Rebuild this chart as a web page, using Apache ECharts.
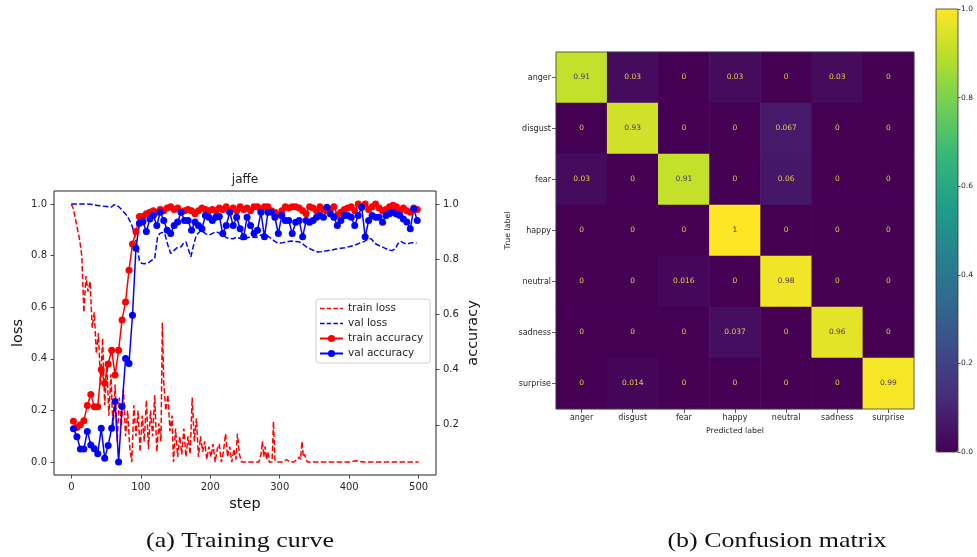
<!DOCTYPE html>
<html>
<head>
<meta charset="utf-8">
<script src="https://cdn.jsdelivr.net/npm/echarts@6/dist/echarts.min.js"></script>
<style>
html,body{margin:0;padding:0;background:#fff;}
#chart{width:977px;height:557px;}
</style>
</head>
<body>
<div id="chart"></div>
<script>
// ---------- Training curve data ----------
const trainLossSteps = [0,3,6,9,12,15,18,21,24,27,30,33,36,39,42,45,48,51,54,57,60,63,66,69,72,75,78,81,84,87,90,93,96,99,102,105,108,111,114,117,120,123,126,129,131,133,136,139,142,145,147,150,153,156,159,162,165,168,171,174,177,180,183,186,189,192,195,198,201,204,207,210,213,216,219,222,225,228,231,234,237,239,242,245,250,255,260,265,270,273,275,277,279,281,283,285,289,291,293,296,300,305,310,315,320,325,328,330,332,334,336,338,340,350,400,410,420,500];
const trainLoss = [1.00,0.98,0.94,0.90,0.86,0.80,0.58,0.72,0.66,0.70,0.52,0.58,0.42,0.50,0.30,0.48,0.22,0.38,0.18,0.34,0.12,0.30,0.08,0.25,0.14,0.28,0.10,0.20,0.06,0.00,0.22,0.10,0.20,0.04,0.18,0.08,0.24,0.05,0.20,0.10,0.26,0.04,0.15,0.08,0.54,0.31,0.20,0.26,0.12,0.18,0.00,0.13,0.02,0.10,0.03,0.13,0.02,0.10,0.03,0.25,0.08,0.17,0.02,0.10,0.04,0.08,0.01,0.06,0.02,0.07,0.00,0.05,0.07,0.00,0.04,0.11,0.02,0.06,0.00,0.05,0.01,0.11,0.03,0.00,0.00,0.00,0.00,0.00,0.00,0.03,0.08,0.02,0.06,0.01,0.04,0.00,0.00,0.157,0.01,0.00,0.00,0.00,0.01,0.00,0.00,0.01,0.02,0.01,0.08,0.02,0.03,0.01,0.00,0.00,0.00,0.005,0.00,0.00];

const valLossSteps = [0,10,20,30,40,50,57,62,68,75,80,85,88,92,95,98,101,105,110,115,120,124,127,131,135,139,143,148,152,158,162,165,169,172,176,180,187,193,198,204,209,214,219,224,228,233,238,244,249,254,260,266,272,278,283,288,293,298,304,310,316,322,328,333,338,344,350,355,360,366,374,381,388,394,401,408,415,422,428,432,437,442,447,452,457,462,466,470,474,479,484,490,497];
const valLoss = [1.0,1.0,1.0,0.998,0.993,0.99,0.987,0.997,0.99,0.97,0.955,0.93,0.91,0.87,0.83,0.78,0.77,0.768,0.77,0.78,0.79,0.87,0.885,0.89,0.88,0.84,0.808,0.82,0.83,0.834,0.85,0.853,0.82,0.795,0.84,0.879,0.898,0.885,0.879,0.887,0.892,0.885,0.878,0.868,0.866,0.865,0.872,0.865,0.859,0.87,0.872,0.87,0.878,0.885,0.875,0.866,0.855,0.847,0.85,0.853,0.856,0.855,0.853,0.845,0.834,0.826,0.818,0.814,0.815,0.818,0.821,0.825,0.828,0.83,0.835,0.84,0.848,0.855,0.866,0.864,0.847,0.84,0.834,0.828,0.821,0.82,0.825,0.845,0.855,0.848,0.845,0.85,0.849];

const accSteps = [3,8,13,18,23,28,33,38,43,48,53,58,63,68,73,78,83,88,93,98,103,108,113,118,123,128,133,138,143,148,153,158,163,168,173,178,183,188,193,198,203,208,213,218,223,228,233,238,243,248,253,258,263,268,273,278,283,288,293,298,303,308,313,318,323,328,333,338,343,348,353,358,363,368,373,378,383,388,393,398,403,408,413,418,423,428,433,438,443,448,453,458,463,468,473,478,483,488,493,498];
const trainAcc = [0.213,0.19,0.20,0.215,0.27,0.31,0.265,0.265,0.40,0.35,0.42,0.47,0.38,0.47,0.58,0.645,0.76,0.855,0.90,0.955,
0.955,0.965,0.97,0.975,0.97,0.98,0.975,0.985,0.99,0.98,
0.985,0.97,0.975,0.98,0.975,0.965,0.975,0.985,0.98,0.975,
0.98,0.975,0.985,0.98,0.99,0.975,0.985,0.975,0.99,0.98,
0.985,0.975,0.99,0.99,0.975,0.99,0.99,0.975,0.97,0.96,
0.975,0.99,0.985,0.99,0.99,0.985,0.975,0.965,0.99,0.985,
0.975,0.99,0.98,0.975,0.98,0.99,0.96,0.97,0.98,0.985,
0.99,0.975,1.0,0.99,1.0,0.98,0.99,1.0,0.985,0.975,
0.98,0.99,0.995,0.99,0.975,0.985,0.975,0.97,0.985,0.98];
const valAcc = [0.186,0.157,0.112,0.112,0.176,0.127,0.113,0.095,0.187,0.079,0.125,0.187,0.284,0.065,0.266,0.44,0.422,0.597,0.84,0.93,
0.936,0.90,0.946,0.958,0.922,0.97,0.94,0.905,0.893,0.922,
0.935,0.97,0.94,0.94,0.905,0.935,0.922,0.91,0.958,0.952,
0.94,0.952,0.955,0.893,0.922,0.97,0.922,0.952,0.91,0.881,
0.952,0.922,0.893,0.905,0.97,0.881,0.97,0.97,0.952,0.893,
0.958,0.94,0.94,0.893,0.934,0.94,0.881,0.94,0.934,0.94,
0.952,0.958,0.952,0.988,0.965,0.952,0.922,0.94,0.958,0.958,
0.952,0.922,0.958,0.988,0.881,0.94,0.958,0.952,0.952,0.934,
0.958,0.965,0.97,0.964,0.958,0.946,0.935,0.91,0.982,0.94];

const stepTicks = [0,100,200,300,400,500];
const lossTicks = [0,0.2,0.4,0.6,0.8,1.0];
const accTicks = [0.2,0.4,0.6,0.8,1.0];

// ---------- Confusion matrix data ----------
const classes = ['anger','disgust','fear','happy','neutral','sadness','surprise'];
const cmAnger    = [0.91,0.03,0,0.03,0,0.03,0];
const cmDisgust  = [0,0.93,0,0,0.067,0,0];
const cmFear     = [0.03,0,0.91,0,0.06,0,0];
const cmHappy    = [0,0,0,1,0,0,0];
const cmNeutral  = [0,0,0.016,0,0.98,0,0];
const cmSadness  = [0,0,0,0.037,0,0.96,0];
const cmSurprise = [0,0.014,0,0,0,0,0.99];
const cmRows = [cmAnger,cmDisgust,cmFear,cmHappy,cmNeutral,cmSadness,cmSurprise];

const viridis = ['#440154','#482878','#3e4989','#31688e','#26828e','#1f9e89','#35b779','#6ece58','#b5de2b','#fde725'];

const pairs = (xs, ys) => xs.map((x, i) => [x, ys[i]]);
const heatData = [];
cmRows.forEach((row, r) => row.forEach((v, c) => {
  heatData.push({value:[c, r, v], label:{color: v < 0.5 ? '#e8c94a' : '#46385a'}});
}));

const FONT = 'DejaVu Sans';
const TXT = '#262626';
const HIDE = 'rgba(0,0,0,0)';

const chart = echarts.init(document.getElementById('chart'), null, {renderer:'canvas'});
chart.setOption({
  animation:false,
  backgroundColor:'#fff',
  textStyle:{fontFamily:FONT},
  grid:[
    {left:54, top:191, width:382, height:284, show:true, borderColor:'#222', borderWidth:1, backgroundColor:'transparent'},
    {left:556, top:52, width:358, height:357, show:true, borderColor:'#444', borderWidth:0.8, backgroundColor:'transparent', z:10},
    {left:936, top:9, width:22, height:443, show:true, borderColor:'#333', borderWidth:0.8, backgroundColor:'transparent', z:10}
  ],
  xAxis:[
    {gridIndex:0, type:'value', min:-25, max:525, position:'bottom',
     name:'step', nameLocation:'middle', nameGap:21,
     nameTextStyle:{fontSize:14.5, color:'#111', fontFamily:FONT},
     axisLine:{show:false, onZero:false},
     axisTick:{show:true, customValues:stepTicks, length:3.5, lineStyle:{color:'#222', width:0.8}},
     axisLabel:{customValues:stepTicks, fontSize:10, color:TXT, margin:7, fontFamily:FONT},
     splitLine:{show:false}},
    {gridIndex:1, type:'category', data:classes,
     name:'Predicted label', nameLocation:'middle', nameGap:16,
     nameTextStyle:{fontSize:7.8, color:TXT, fontFamily:FONT},
     axisLine:{show:false, onZero:false},
     axisTick:{show:true, alignWithLabel:true, length:4, lineStyle:{color:'#333', width:0.8}},
     axisLabel:{fontSize:8, color:TXT, margin:5, fontFamily:FONT, interval:0},
     splitLine:{show:false}},
    {gridIndex:2, type:'value', show:false, min:0, max:1}
  ],
  yAxis:[
    {gridIndex:0, type:'value', min:-0.05, max:1.05, position:'left',
     name:'loss', nameLocation:'middle', nameGap:28, nameRotate:90,
     nameTextStyle:{fontSize:14.5, color:'#111', fontFamily:FONT},
     axisLine:{show:false, onZero:false},
     axisTick:{show:true, customValues:lossTicks, length:3.5, lineStyle:{color:'#222', width:0.8}},
     axisLabel:{customValues:lossTicks, fontSize:10, color:TXT, margin:7, fontFamily:FONT, formatter:v => v.toFixed(1)},
     splitLine:{show:false}},
    {gridIndex:0, type:'value', position:'right', min:0.018, max:1.047,
     name:'accuracy', nameLocation:'middle', nameGap:30, nameRotate:90,
     nameTextStyle:{fontSize:14.5, color:'#111', fontFamily:FONT},
     axisLine:{show:false, onZero:false},
     axisTick:{show:true, customValues:accTicks, length:3.5, lineStyle:{color:'#222', width:0.8}},
     axisLabel:{customValues:accTicks, fontSize:10, color:TXT, margin:7, fontFamily:FONT, formatter:v => v.toFixed(1)},
     splitLine:{show:false}},
    {gridIndex:1, type:'category', data:classes, inverse:true,
     name:'True label', nameLocation:'middle', nameGap:44, nameRotate:90,
     nameTextStyle:{fontSize:7.8, color:TXT, fontFamily:FONT},
     axisLine:{show:false, onZero:false},
     axisTick:{show:true, alignWithLabel:true, length:4, lineStyle:{color:'#333', width:0.8}},
     axisLabel:{fontSize:8, color:TXT, margin:5, fontFamily:FONT, interval:0},
     splitLine:{show:false}},
    {gridIndex:2, type:'value', position:'right', min:0, max:1, interval:0.2,
     axisLine:{show:false, onZero:false},
     axisTick:{show:true, length:2.5, lineStyle:{color:'#333', width:0.8}},
     axisLabel:{fontSize:7.5, color:TXT, margin:3, fontFamily:FONT, formatter:v => v.toFixed(1)},
     splitLine:{show:false}}
  ],
  visualMap:{
    type:'continuous', seriesIndex:4, min:0, max:1,
    orient:'vertical', left:936, top:9, itemWidth:22, itemHeight:443,
    padding:0, calculable:false, hoverLink:false, z:2,
    inRange:{color:viridis}
  },
  legend:{
    data:[
      {name:'train loss', itemStyle:{color:HIDE, borderColor:HIDE, borderWidth:0}, lineStyle:{color:'#ff0000', width:1.5, type:[4.5,2.2]}},
      {name:'val loss', itemStyle:{color:HIDE, borderColor:HIDE, borderWidth:0}, lineStyle:{color:'#0000ff', width:1.5, type:[4.5,2.2]}},
      {name:'train accuracy'},
      {name:'val accuracy'}
    ],
    left:316, top:299, orient:'vertical',
    itemWidth:23, itemHeight:9, itemGap:4,
    padding:[4,7,4,3],
    backgroundColor:'rgba(255,255,255,0.85)', borderColor:'#d0d0d0', borderWidth:1, borderRadius:3,
    textStyle:{fontSize:10.5, color:TXT, fontFamily:FONT},
    selectedMode:false
  },
  graphic:[
    {type:'text', x:245, y:180, style:{text:'jaffe', font:'12px "DejaVu Sans"', fill:'#222', textAlign:'center', verticalAlign:'middle'}},
    {type:'text', x:240, y:541, scaleX:1.18, style:{text:'(a) Training curve', font:'22px "Liberation Serif"', fill:'#111', textAlign:'center', verticalAlign:'middle'}},
    {type:'text', x:777, y:541, scaleX:1.18, style:{text:'(b) Confusion matrix', font:'22px "Liberation Serif"', fill:'#111', textAlign:'center', verticalAlign:'middle'}}
  ],
  series:[
    {name:'train loss', type:'line', xAxisIndex:0, yAxisIndex:0, data:pairs(trainLossSteps, trainLoss),
     symbol:'none', lineStyle:{color:'#ff0000', width:1.5, type:[5.5,2.4]}, itemStyle:{color:'#ff0000'}},
    {name:'val loss', type:'line', xAxisIndex:0, yAxisIndex:0, data:pairs(valLossSteps, valLoss),
     symbol:'none', lineStyle:{color:'#0000ff', width:1.5, type:[5.5,2.4]}, itemStyle:{color:'#0000ff'}},
    {name:'train accuracy', type:'line', xAxisIndex:0, yAxisIndex:1, data:pairs(accSteps, trainAcc),
     symbol:'circle', symbolSize:7, showAllSymbol:true,
     lineStyle:{color:'#ff0000', width:1.5}, itemStyle:{color:'#ff0000'}},
    {name:'val accuracy', type:'line', xAxisIndex:0, yAxisIndex:1, data:pairs(accSteps, valAcc),
     symbol:'circle', symbolSize:7, showAllSymbol:true,
     lineStyle:{color:'#0000ff', width:1.5}, itemStyle:{color:'#0000ff'}},
    {name:'cm', type:'heatmap', xAxisIndex:1, yAxisIndex:2, data:heatData,
     label:{show:true, fontSize:7.5, fontFamily:FONT, formatter:p => String(p.value[2])},
     emphasis:{disabled:true}}
  ]
});
</script>
</body>
</html>
